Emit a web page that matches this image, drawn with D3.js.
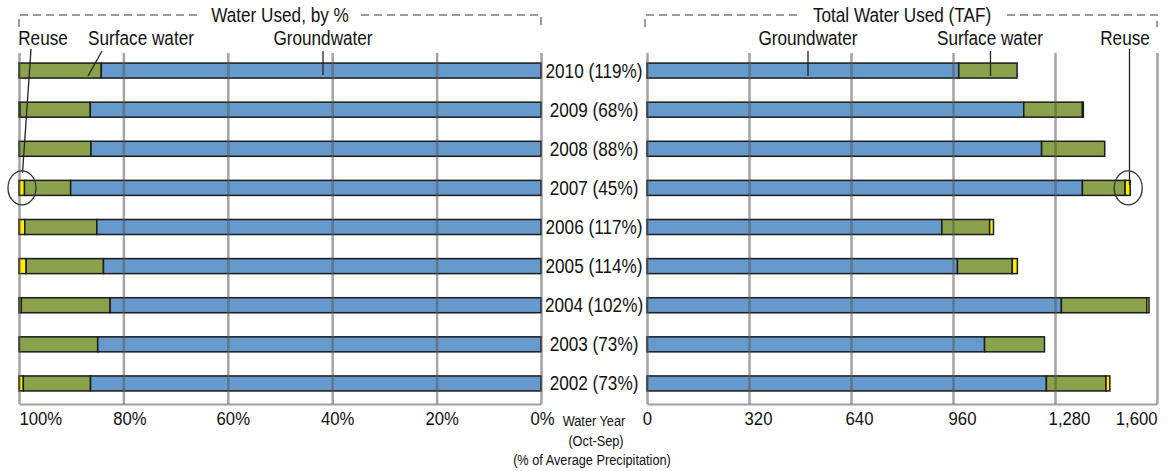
<!DOCTYPE html>
<html>
<head>
<meta charset="utf-8">
<script src="https://cdn.jsdelivr.net/npm/d3@7"></script>
<style>
  body { margin: 0; background: #fff; }
  svg { font-family: "Liberation Sans", Arial, sans-serif; }
  .grid line { stroke: rgba(90, 90, 90, 0.55); stroke-width: 2.5; }
  .grid path { stroke: #a0a0a0; stroke-width: 2; }
  .grid text { font-size: 19px; fill: #111; }
</style>
</head>
<body>
<svg id="chart"></svg>
<script>
// water years, top to bottom
const years = ["2010", "2009", "2008", "2007", "2006", "2005", "2004", "2003", "2002"];
// % of average precipitation
const precip = [119, 68, 88, 45, 117, 114, 102, 73, 73];
// thousand acre-feet
const groundwater = [978, 1182, 1238, 1366, 925, 974, 1300, 1059, 1253];
const surfaceWater = [183, 184, 198, 134, 150, 172, 268, 188, 187];
const reuse = [0, 3, 0, 16, 12, 16, 7, 0, 12];

const pctTicks = [100, 80, 60, 40, 20, 0];
const tafTicks = [0, 320, 640, 960, 1280, 1600];

const colors = { gw: "#6699cc", sw: "#8aa24b", reuse: "#ffed00" };

const width = 1168, height = 471;
const gridTop = 53, gridBottom = 404;
const barH = 15;
const squeeze = 0.88; // the source lettering is tall and narrow

const rows = years.map((y, i) => ({
  year: y, precip: precip[i], gw: groundwater[i], sw: surfaceWater[i], reuse: reuse[i]
}));

const svg = d3.select("#chart").attr("width", width).attr("height", height);

const y = d3.scalePoint().domain(years).range([51, 403]).padding(0.5);
const xPct = d3.scaleLinear().domain([100, 0]).range([19, 541]);
const xShare = d3.scaleLinear().domain([0, 1]).range([19, 541]); // cumulative share from the left edge
const xTaf = d3.scaleLinear().domain([0, 1600]).range([647, 1157]);

// left panel: share of total, reuse at the 100% end
const pctStack = d3.stack().keys(["reuse", "sw", "gw"]).offset(d3.stackOffsetExpand)(rows);
// right panel: totals from zero
const tafStack = d3.stack().keys(["gw", "sw", "reuse"])(rows);

function drawBars(stack, x, cls) {
  const g = svg.append("g").attr("class", cls);
  stack.forEach(layer => {
    g.selectAll("rect." + layer.key)
      .data(layer.filter(d => d[1] - d[0] > 0))
      .enter().append("rect")
      .attr("class", layer.key)
      .attr("x", d => Math.min(x(d[0]), x(d[1])))
      .attr("width", d => Math.abs(x(d[1]) - x(d[0])))
      .attr("y", d => y(d.data.year) - barH / 2)
      .attr("height", barH)
      .attr("fill", colors[layer.key])
      .attr("stroke", "#1b1b1b")
      .attr("stroke-width", 1.5);
  });
}

drawBars(pctStack, xShare, "left-bars");
drawBars(tafStack, xTaf, "right-bars");

// narrow text: move x into a transform and scale horizontally
function narrow(sel) {
  sel.each(function () {
    const t = d3.select(this);
    const x = +t.attr("x") || 0;
    t.attr("x", null).attr("transform", `translate(${x},0) scale(${squeeze},1)`);
  });
}

// gridlines + axes drawn over the bars
const leftAxis = d3.axisBottom(xPct)
  .tickValues(pctTicks)
  .tickSizeInner(-(gridBottom - gridTop))
  .tickSizeOuter(0)
  .tickPadding(8)
  .tickFormat(d => d + "%");

const rightAxis = d3.axisBottom(xTaf)
  .tickValues(tafTicks)
  .tickSizeInner(-(gridBottom - gridTop))
  .tickSizeOuter(0)
  .tickPadding(8)
  .tickFormat(d3.format(","));

const gl = svg.append("g").attr("class", "grid")
  .attr("transform", `translate(0, ${gridBottom})`)
  .call(leftAxis);
gl.selectAll("text")
  .attr("text-anchor", (d, i) => i === 0 ? "start" : "middle")
  .attr("x", (d, i) => [0, 6, 5, 5, 5, 1][i])
  .call(narrow);

const gr = svg.append("g").attr("class", "grid")
  .attr("transform", `translate(0, ${gridBottom})`)
  .call(rightAxis);
gr.selectAll("text")
  .attr("text-anchor", (d, i) => i === 5 ? "end" : "middle")
  .attr("x", (d, i) => [0, 9, 8, 9, 14, 0][i])
  .call(narrow);
svg.selectAll(".grid .domain").attr("stroke", "#a0a0a0");

// year labels in the middle
svg.append("g").selectAll("text")
  .data(rows)
  .enter().append("text")
  .attr("x", 594)
  .attr("y", d => y(d.year))
  .attr("dy", "0.36em")
  .attr("text-anchor", "middle")
  .style("font-size", "19.5px")
  .attr("fill", "#111")
  .text(d => `${d.year} (${d.precip}%)`)
  .call(narrow);

// middle axis caption
const cap = svg.append("g").style("font-size", "14.5px").attr("fill", "#111").attr("text-anchor", "middle");
cap.append("text").attr("x", 594).attr("y", 426).text("Water Year");
cap.append("text").attr("x", 596).attr("y", 446).text("(Oct-Sep)");
cap.append("text").attr("x", 592).attr("y", 465).text("(% of Average Precipitation)");
cap.selectAll("text").call(narrow);

// dashed header brackets
const bracket = svg.append("g")
  .attr("fill", "none")
  .attr("stroke", "#9a9a9a")
  .attr("stroke-width", 2)
  .attr("stroke-dasharray", "8,5");
bracket.append("path").attr("d", "M19,27V15H199");
bracket.append("path").attr("d", "M361,15H541V27");
bracket.append("path").attr("d", "M645,27V15H797");
bracket.append("path").attr("d", "M1007,15H1157V27");

const heads = svg.append("g").style("font-size", "19.5px").attr("fill", "#111").attr("text-anchor", "middle");
heads.append("text").attr("x", 280).attr("y", 22).text("Water Used, by %");
heads.append("text").attr("x", 902).attr("y", 22).text("Total Water Used (TAF)");
heads.selectAll("text").call(narrow);

// series call-outs
const labels = [
  { t: "Reuse", x: 43, line: [31, 49, 22.5, 173] },
  { t: "Surface water", x: 141, line: [102, 51, 88, 76] },
  { t: "Groundwater", x: 323, line: [323, 51, 323, 75] },
  { t: "Groundwater", x: 808, line: [808, 51, 808, 76] },
  { t: "Surface water", x: 990, line: [990.5, 51, 990.5, 76] },
  { t: "Reuse", x: 1125, line: [1129.5, 49, 1129.5, 185] }
];
const lg = svg.append("g");
lg.selectAll("text").data(labels).enter().append("text")
  .attr("x", d => d.x).attr("y", 45)
  .attr("text-anchor", "middle")
  .style("font-size", "19.5px")
  .attr("fill", "#111")
  .text(d => d.t)
  .call(narrow);
lg.selectAll("line").data(labels).enter().append("line")
  .attr("x1", d => d.line[0]).attr("y1", d => d.line[1])
  .attr("x2", d => d.line[2]).attr("y2", d => d.line[3])
  .attr("stroke", "#222").attr("stroke-width", 1.3);

// circles around the 2007 reuse slivers
svg.append("g").selectAll("ellipse")
  .data([xPct(100) + 3, xTaf(1516) - 2])
  .enter().append("ellipse")
  .attr("cx", d => d).attr("cy", y("2007"))
  .attr("rx", 14).attr("ry", 17)
  .attr("fill", "none").attr("stroke", "#333").attr("stroke-width", 1.3);
</script>
</body>
</html>
